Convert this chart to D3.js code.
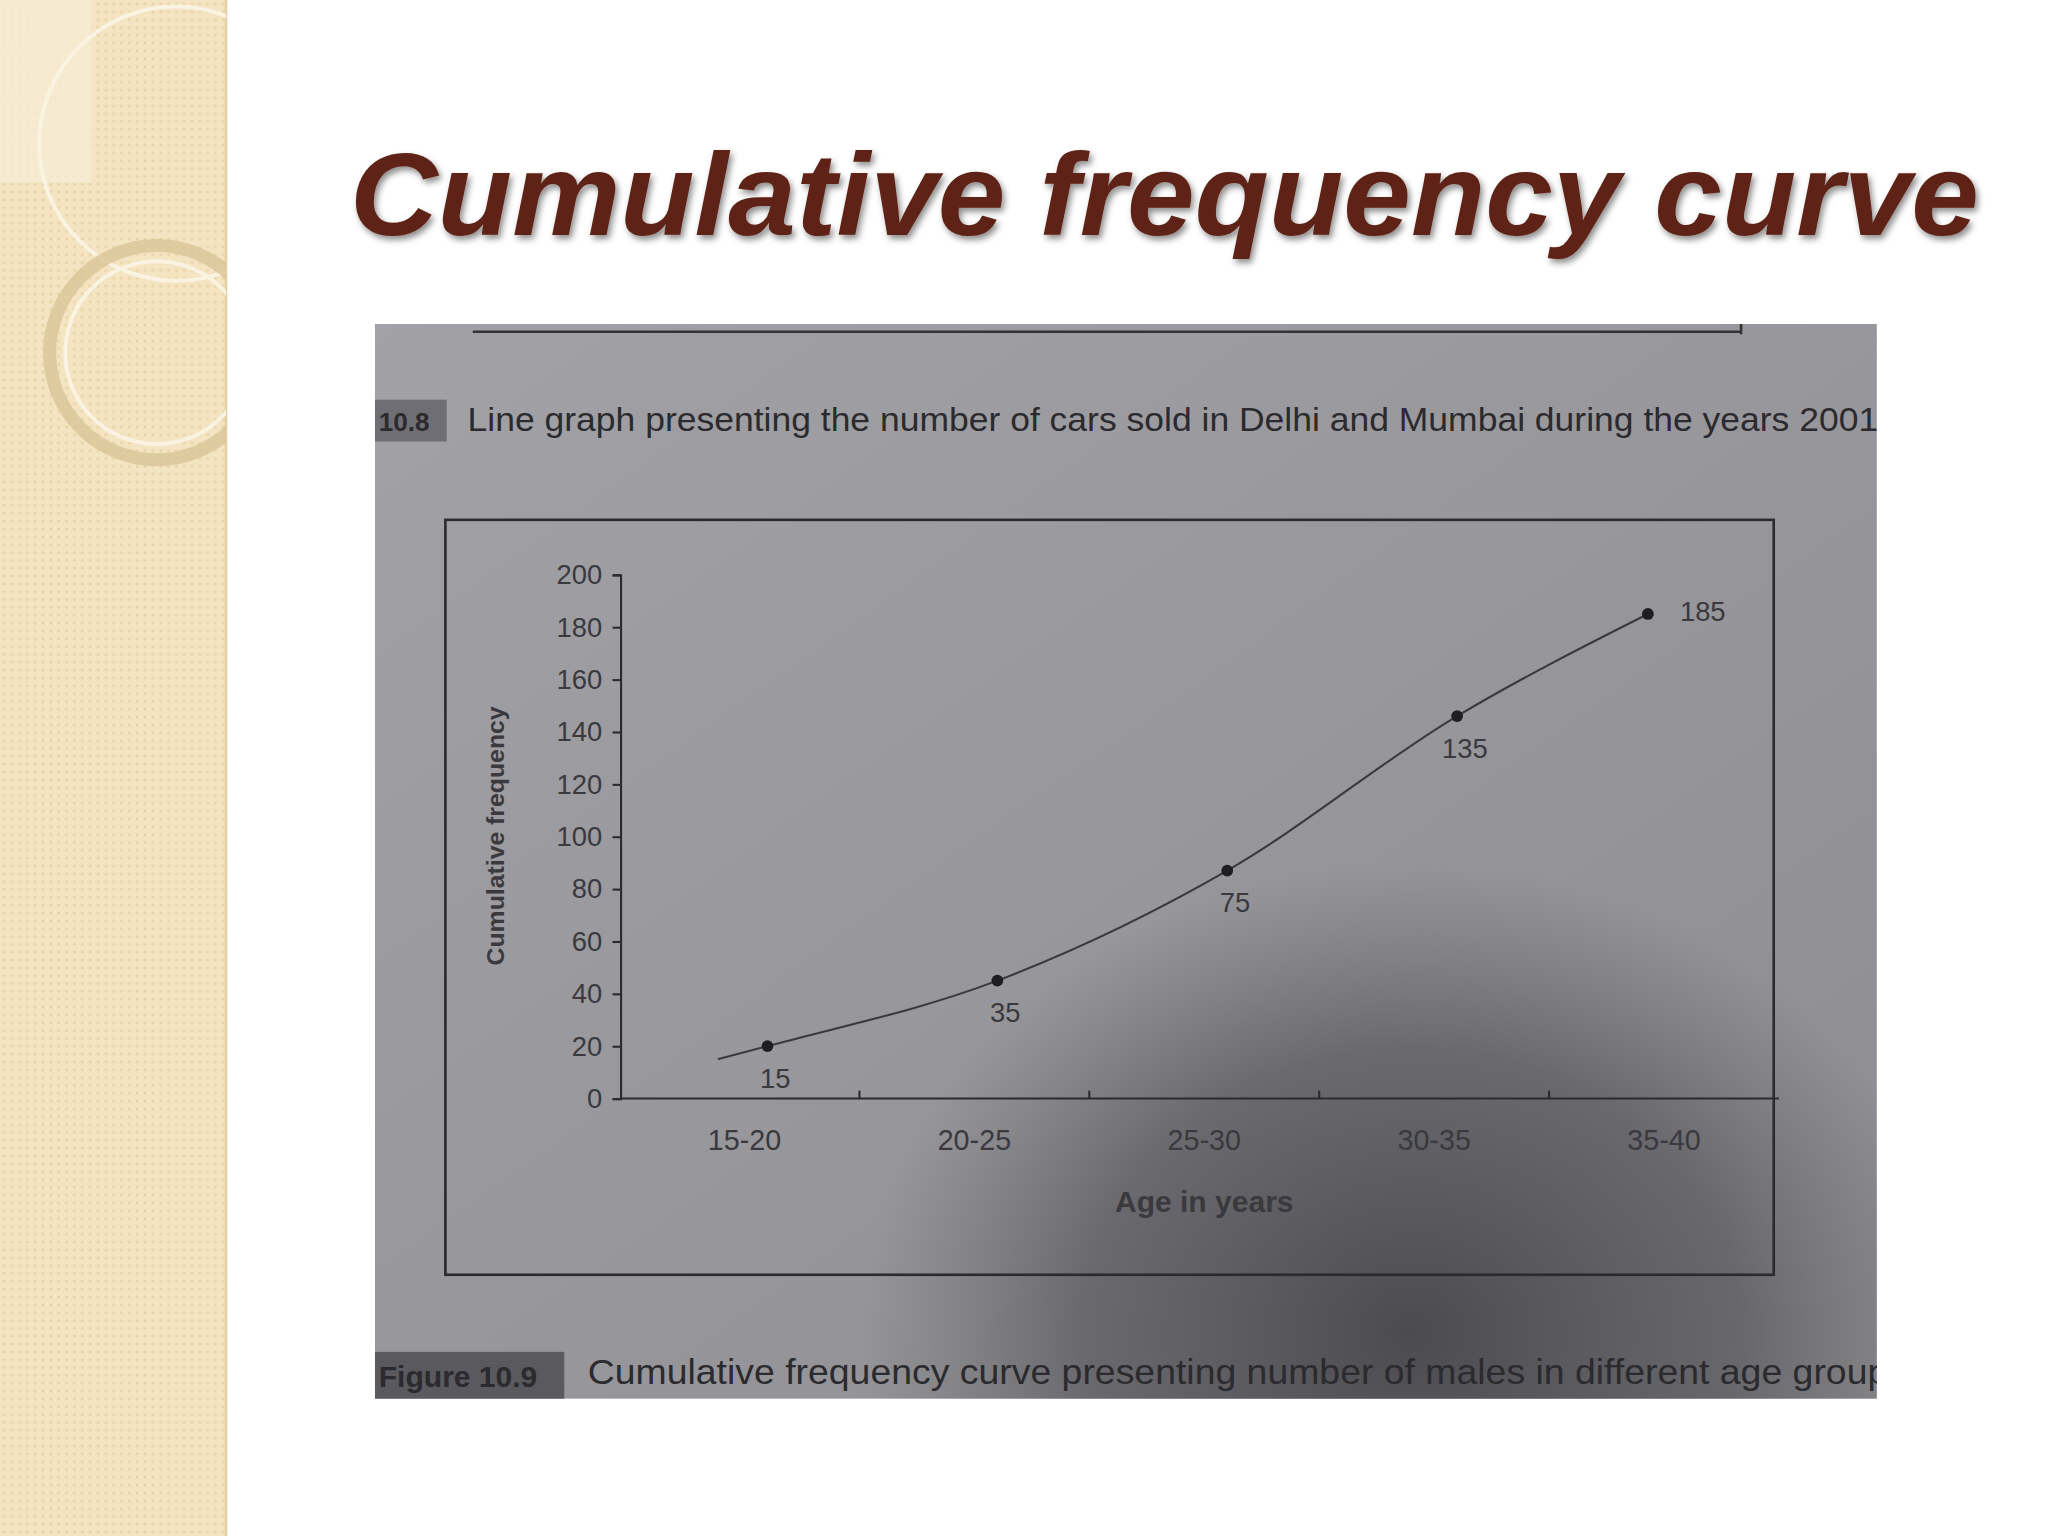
<!DOCTYPE html>
<html><head><meta charset="utf-8">
<script src="https://cdn.jsdelivr.net/npm/d3@7"></script>
<style>html,body{margin:0;padding:0;background:#fff;overflow:hidden}</style>
</head><body>
<script>
const categories = ["15-20","20-25","25-30","30-35","35-40"];
const plotted = [20, 45, 87, 146, 185];
const pointLabels = ["15","35","75","135","185"];
const yTicks = [0,20,40,60,80,100,120,140,160,180,200];
const title = "Cumulative frequency curve";
const topCaption = ["10.8", "Line graph presenting the number of cars sold in Delhi and Mumbai during the years 2001"];
const bottomCaption = ["Figure 10.9", "Cumulative frequency curve presenting number of males in different age groups"];

const svg = d3.select("body").append("svg")
  .attr("width",2048).attr("height",1536).attr("viewBox","0 0 1568 1176");
const defs = svg.append("defs");

const pat = defs.append("pattern").attr("id","dots").attr("width",6).attr("height",6).attr("patternUnits","userSpaceOnUse");
pat.append("rect").attr("width",6).attr("height",6).attr("fill","#f4e4c1");
pat.append("circle").attr("cx",3).attr("cy",3).attr("r",1.2).attr("fill","#e8d3a6");
svg.append("rect").attr("x",0).attr("y",0).attr("width",173).attr("height",1176).attr("fill","url(#dots)");
svg.append("line").attr("x1",173).attr("x2",173).attr("y1",0).attr("y2",1176).attr("stroke","#e3cf9f").attr("stroke-width",2);
const clipL = defs.append("clipPath").attr("id","clipL");
clipL.append("rect").attr("x",0).attr("y",0).attr("width",173).attr("height",1176);
const deco = svg.append("g").attr("clip-path","url(#clipL)");
deco.append("rect").attr("x",0).attr("y",0).attr("width",70).attr("height",140).attr("fill","#f6ebd3").attr("opacity",0.8);
deco.append("circle").attr("cx",135).attr("cy",110).attr("r",105).attr("fill","none").attr("stroke","#fbf3e2").attr("stroke-width",3);
deco.append("circle").attr("cx",120).attr("cy",270).attr("r",82).attr("fill","none").attr("stroke","#d8c497").attr("stroke-width",10).attr("opacity",0.8);
deco.append("circle").attr("cx",120).attr("cy",270).attr("r",70).attr("fill","none").attr("stroke","#fbf3e2").attr("stroke-width",3);

const tf = defs.append("filter").attr("id","ts").attr("x","-5%").attr("y","-20%").attr("width","110%").attr("height","140%");
tf.append("feDropShadow").attr("dx",2).attr("dy",3).attr("stdDeviation",2.5).attr("flood-color","#000").attr("flood-opacity",0.45);
svg.append("text").attr("x",268).attr("y",180)
  .attr("font-family","Liberation Sans, Arial, sans-serif").attr("font-weight","bold").attr("font-style","italic")
  .attr("font-size",90).attr("fill","#5e2416").attr("filter","url(#ts)")
  .attr("textLength",1247).attr("lengthAdjust","spacingAndGlyphs").text(title);

const P = {x:287,y:248,w:1150,h:823};
const clipP = defs.append("clipPath").attr("id","clipP");
clipP.append("rect").attr("x",P.x).attr("y",P.y).attr("width",P.w).attr("height",P.h);
const lg = defs.append("linearGradient").attr("id","pg").attr("x1",0).attr("y1",0).attr("x2",1).attr("y2",1);
lg.append("stop").attr("offset",0).attr("stop-color","#a2a2a6");
lg.append("stop").attr("offset",1).attr("stop-color","#8d8c90");
const rg = defs.append("radialGradient").attr("id","shadow");
rg.append("stop").attr("offset",0).attr("stop-color","#3a393e").attr("stop-opacity",0.8);
rg.append("stop").attr("offset",0.6).attr("stop-color","#48474c").attr("stop-opacity",0.55);
rg.append("stop").attr("offset",1).attr("stop-color","#555").attr("stop-opacity",0);
const ph = svg.append("g").attr("clip-path","url(#clipP)");
ph.append("rect").attr("x",P.x).attr("y",P.y).attr("width",P.w).attr("height",P.h).attr("fill","url(#pg)");
ph.append("ellipse").attr("cx",1080).attr("cy",1020).attr("rx",420).attr("ry",360).attr("fill","url(#shadow)");
ph.append("line").attr("x1",362).attr("x2",1333).attr("y1",254).attr("y2",254).attr("stroke","#333").attr("stroke-width",2);
ph.append("line").attr("x1",1333).attr("x2",1333).attr("y1",248).attr("y2",256).attr("stroke","#333").attr("stroke-width",2);

const ink = "#2b2a2e";
ph.append("rect").attr("x",P.x).attr("y",306).attr("width",55).attr("height",32).attr("fill","#6f6e74");
ph.append("text").attr("x",290).attr("y",330).attr("font-family","Liberation Sans, Arial").attr("font-weight","bold").attr("font-size",20).attr("fill",ink).text(topCaption[0]);
ph.append("text").attr("x",358).attr("y",330).attr("font-family","Liberation Sans, Arial").attr("font-size",25).attr("fill",ink).attr("textLength",1080).attr("lengthAdjust","spacingAndGlyphs").text(topCaption[1]);
ph.append("rect").attr("x",P.x).attr("y",1035).attr("width",145).attr("height",36).attr("fill","#5a595e");
ph.append("text").attr("x",290).attr("y",1062).attr("font-family","Liberation Sans, Arial").attr("font-weight","bold").attr("font-size",23).attr("fill",ink).text(bottomCaption[0]);
ph.append("text").attr("x",450).attr("y",1060).attr("font-family","Liberation Sans, Arial").attr("font-size",27).attr("fill",ink).attr("textLength",1010).attr("lengthAdjust","spacingAndGlyphs").text(bottomCaption[1]);

ph.append("rect").attr("x",341).attr("y",398).attr("width",1017).attr("height",578).attr("fill","none").attr("stroke",ink).attr("stroke-width",2);

const x = d3.scaleBand().domain(categories).range([482,1362]);
const y = d3.scaleLinear().domain([0,200]).range([841,440]);
const px = (c,i) => x(c) + x.bandwidth()*(i===categories.length-1 ? 0.43 : 0.6);
const g = ph.append("g").attr("font-family","Liberation Sans, Arial").attr("fill",ink);

const yAxis = g.append("g").attr("transform","translate(475,0)")
  .call(d3.axisLeft(y).tickValues(yTicks).tickSize(6).tickPadding(8));
yAxis.selectAll("path,line").attr("stroke",ink).attr("stroke-width",1.6);
yAxis.selectAll("text").attr("font-size",21).attr("fill","#3a393e").attr("font-family","Liberation Sans Narrow, Liberation Sans, Arial");
const xAxis = g.append("g").attr("transform","translate(0,841)")
  .call(d3.axisBottom(x).tickSize(0).tickPadding(24));
xAxis.select("path").attr("d","M475,0H1362").attr("stroke",ink).attr("stroke-width",1.6);
xAxis.selectAll("text").attr("font-size",22).attr("fill","#3a393e").attr("font-family","Liberation Sans Narrow, Liberation Sans, Arial");
g.append("g").selectAll("line").data(categories.slice(1)).join("line")
  .attr("x1",d=>x(d)).attr("x2",d=>x(d)).attr("y1",841).attr("y2",835).attr("stroke",ink).attr("stroke-width",1.6);

g.append("text").attr("transform","translate(386,640) rotate(-90)").attr("text-anchor","middle")
  .attr("font-size",19).attr("font-weight","bold").attr("fill","#3a393e").text("Cumulative frequency");
g.append("text").attr("x",922).attr("y",928).attr("text-anchor","middle")
  .attr("font-size",23).attr("font-weight","bold").attr("fill","#3a393e").text("Age in years");

const pts = categories.map((c,i)=>[px(c,i), y(plotted[i])]);
const curvePts = [[pts[0][0]-38, y(plotted[0]-5)], ...pts];
g.append("path").attr("d", d3.line().curve(d3.curveMonotoneX)(curvePts))
  .attr("fill","none").attr("stroke","#3a393e").attr("stroke-width",1.6);
g.selectAll("circle.pt").data(pts).join("circle").attr("class","pt")
  .attr("cx",d=>d[0]).attr("cy",d=>d[1]).attr("r",4.5).attr("fill","#1e1d22");
g.selectAll("text.lab").data(pointLabels).join("text").attr("class","lab")
  .attr("x",(d,i)=> i===4 ? pts[i][0]+42 : pts[i][0]+6)
  .attr("y",(d,i)=> i===4 ? pts[i][1]+5 : pts[i][1]+32)
  .attr("text-anchor","middle").attr("font-size",21).attr("fill","#3a393e")
  .attr("font-family","Liberation Sans Narrow, Liberation Sans, Arial").text(d=>d);
</script>
</body></html>
